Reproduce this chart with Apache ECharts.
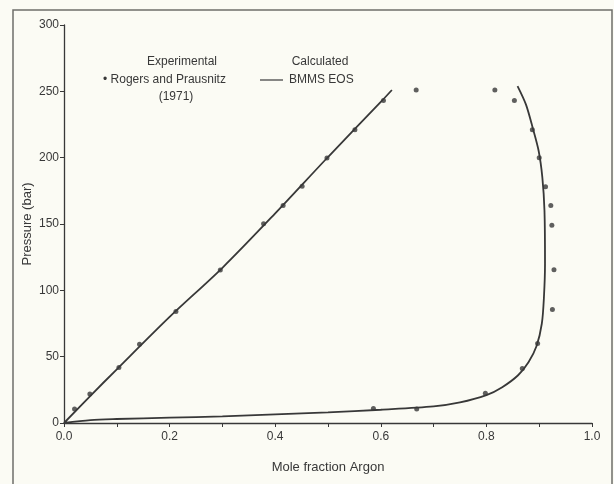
<!DOCTYPE html>
<html>
<head>
<meta charset="utf-8">
<script src="https://cdn.jsdelivr.net/npm/echarts@6/dist/echarts.min.js"></script>
<style>
  html, body { margin: 0; padding: 0; background: #fbfbf4; }
  #chart { width: 614px; height: 484px; }
</style>
</head>
<body>
<div id="chart"></div>
<script>
  // experimental points, Rogers and Prausnitz (1971)
  const expX = [0.020, 0.049, 0.104, 0.143, 0.212, 0.296, 0.378, 0.415, 0.451, 0.498, 0.551, 0.605,
                0.667, 0.816, 0.853, 0.887, 0.900, 0.912, 0.922, 0.924, 0.928, 0.925,
                0.897, 0.868, 0.798, 0.668, 0.586];
  const expY = [10.5, 21.8, 41.9, 59.4, 84, 115.3, 150.1, 164, 178.4, 199.7, 221, 243,
                251, 251, 243, 221, 200, 178, 164, 149, 115.5, 85.5,
                60, 41, 22.5, 10.5, 11];

  // calculated curve, BMMS EOS
  const calcX = [0.621, 0.6, 0.5, 0.4, 0.3, 0.2, 0.1, 0.05, 0.0,
                 0.05, 0.1, 0.2, 0.3, 0.4, 0.5, 0.6, 0.7, 0.75, 0.8, 0.83, 0.86, 0.88, 0.895,
                 0.905, 0.909, 0.911, 0.910, 0.906, 0.899, 0.888, 0.875, 0.859];
  const calcY = [251, 242, 200.5, 158, 117, 80, 40.5, 20.5, 0,
                 2.2, 3, 4, 5, 6.5, 8, 10, 12.5, 15.5, 21, 27, 36, 46, 58,
                 75, 95, 120, 160, 185, 205, 222, 240, 254];

  const yTicks = [0, 50, 100, 150, 200, 250, 300];

  const ink = '#383838';
  const font = 'Liberation Sans';

  const myChart = echarts.init(document.getElementById('chart'));

  const option = {
    backgroundColor: '#fbfbf4',
    animation: false,
    textStyle: { fontFamily: font, color: ink },
    grid: {
      left: 64,
      right: 22,
      top: 25,
      bottom: 61
    },
    xAxis: {
      type: 'value',
      min: 0,
      max: 1,
      interval: 0.2,
      name: 'Mole fraction Argon',
      nameLocation: 'middle',
      nameGap: 38,
      nameTextStyle: { fontSize: 13, color: ink, fontFamily: font },
      axisLine: { lineStyle: { color: ink, width: 1.3 } },
      axisTick: { show: true, length: 4, inside: false, lineStyle: { color: ink } },
      minorTick: { show: true, splitNumber: 2, length: 4, lineStyle: { color: ink } },
      axisLabel: {
        color: ink,
        fontSize: 12,
        margin: 8,
        formatter: v => v.toFixed(1)
      },
      splitLine: { show: false }
    },
    yAxis: {
      type: 'value',
      min: yTicks[0],
      max: yTicks[yTicks.length - 1],
      interval: 50,
      name: 'Pressure (bar)',
      nameLocation: 'middle',
      nameGap: 30,
      nameMoveOverlap: false,
      nameTextStyle: { fontSize: 13, color: ink, fontFamily: font },
      axisLine: { show: true, lineStyle: { color: ink, width: 1.3 } },
      axisTick: { show: true, length: 4, lineStyle: { color: ink } },
      axisLabel: { color: ink, fontSize: 12, margin: 5 },
      splitLine: { show: false }
    },
    graphic: [
      // scanned page frame
      {
        type: 'rect',
        shape: { x: 13, y: 10, width: 599, height: 500 },
        style: { fill: null, stroke: '#6f6f6a', lineWidth: 1.5 },
        silent: true
      },
      { type: 'text', x: 182, y: 62, style: { text: 'Experimental', font: '12px ' + font, fill: ink, align: 'center', verticalAlign: 'middle' } },
      { type: 'text', x: 103, y: 80, style: { text: '\u2022 Rogers and Prausnitz', font: '12px ' + font, fill: ink, align: 'left', verticalAlign: 'middle' } },
      { type: 'text', x: 176, y: 97, style: { text: '(1971)', font: '12px ' + font, fill: ink, align: 'center', verticalAlign: 'middle' } },
      { type: 'text', x: 320, y: 62, style: { text: 'Calculated', font: '12px ' + font, fill: ink, align: 'center', verticalAlign: 'middle' } },
      { type: 'line', shape: { x1: 260, y1: 80, x2: 283, y2: 80 }, style: { stroke: ink, lineWidth: 1.2 } },
      { type: 'text', x: 289, y: 80, style: { text: 'BMMS EOS', font: '12px ' + font, fill: ink, align: 'left', verticalAlign: 'middle' } }
    ],
    series: [
      {
        name: 'BMMS EOS',
        type: 'line',
        data: calcX.map((x, i) => [x, calcY[i]]),
        smooth: 0.3,
        showSymbol: false,
        lineStyle: { color: ink, width: 1.8 },
        z: 2
      },
      {
        name: 'Rogers and Prausnitz (1971)',
        type: 'scatter',
        data: expX.map((x, i) => [x, expY[i]]),
        symbol: 'circle',
        symbolSize: 5,
        itemStyle: { color: ink },
        z: 3
      }
    ]
  };

  myChart.setOption(option);
</script>
</body>
</html>
